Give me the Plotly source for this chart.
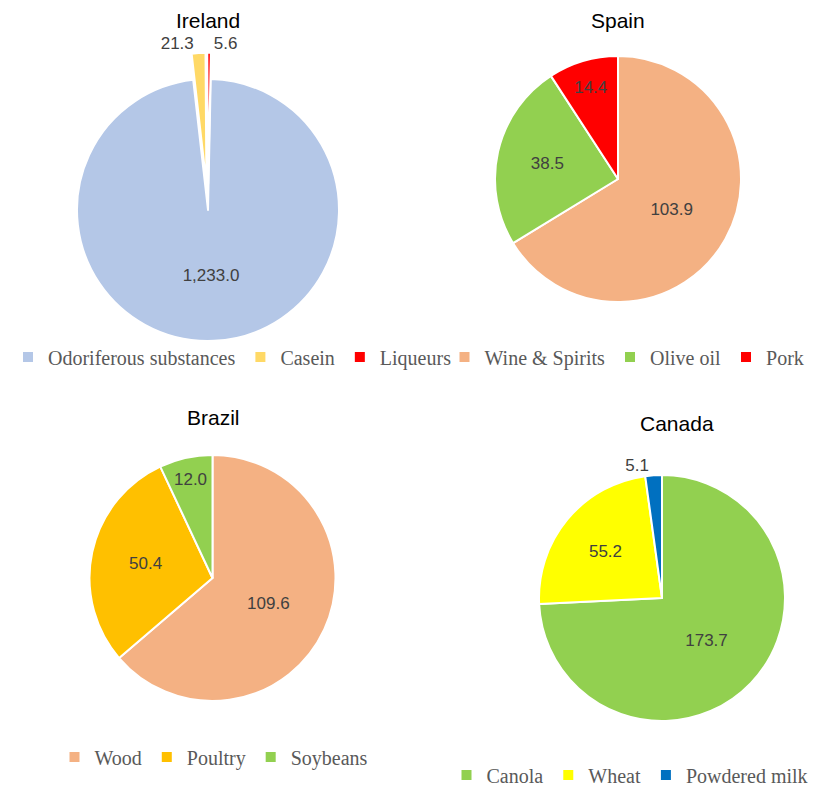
import plotly.graph_objects as go

W, H = 823, 788
OFF = 8  # page body margin: figure is drawn 8px right/down of the window corner

# ---- data ----
ireland_labels = ["Odoriferous substances", "Casein", "Liqueurs"]
ireland_values = [1233.0, 21.3, 5.6]
ireland_colors = ["#B4C7E7", "#FFD966", "#FF0000"]

spain_labels = ["Wine & Spirits", "Olive oil", "Pork"]
spain_values = [103.9, 38.5, 14.4]
spain_colors = ["#F4B183", "#92D050", "#FF0000"]

brazil_labels = ["Wood", "Poultry", "Soybeans"]
brazil_values = [109.6, 50.4, 12.0]
brazil_colors = ["#F4B183", "#FFC000", "#92D050"]

canada_labels = ["Canola", "Wheat", "Powdered milk"]
canada_values = [173.7, 55.2, 5.1]
canada_colors = ["#92D050", "#FFFF00", "#0070C0"]

titles = ["Ireland", "Spain", "Brazil", "Canada"]


def px_dom(cx, cy, half):
    cx, cy = cx - OFF, cy - OFF
    return dict(x=[(cx - half) / W, (cx + half) / W],
                y=[(H - cy - half) / H, (H - cy + half) / H])


def fx(x):
    return (x - OFF) / W


def fy(y):
    return (H - (y - OFF)) / H


label_font = dict(family="Liberation Sans, Arial", size=17, color="#404040")

fig = go.Figure()

common = dict(sort=False, direction="clockwise",
              texttemplate="%{value:,.1f}", textinfo="value",
              insidetextorientation="horizontal",
              textfont=label_font, insidetextfont=label_font,
              outsidetextfont=label_font, hoverinfo="label+value")

PULL = 0.2
pull_ir = [0, PULL, PULL]
fig.add_trace(go.Pie(labels=ireland_labels, values=ireland_values, rotation=1.2,
                     marker=dict(colors=ireland_colors, line=dict(color="white", width=2)),
                     pull=pull_ir, textposition=["inside", "outside", "outside"],
                     domain=px_dom(208, 210, 131 * (1 + PULL)), legend="legend", **common))
fig.add_trace(go.Pie(labels=spain_labels, values=spain_values, rotation=0,
                     marker=dict(colors=spain_colors, line=dict(color="white", width=2)),
                     textposition="inside",
                     domain=px_dom(618, 179, 123), legend="legend2", **common))
fig.add_trace(go.Pie(labels=brazil_labels, values=brazil_values, rotation=0,
                     marker=dict(colors=brazil_colors, line=dict(color="white", width=2)),
                     textposition="inside",
                     domain=px_dom(212.5, 578, 123), legend="legend3", **common))
fig.add_trace(go.Pie(labels=canada_labels, values=canada_values, rotation=0,
                     marker=dict(colors=canada_colors, line=dict(color="white", width=2)),
                     textposition=["inside", "inside", "outside"],
                     domain=px_dom(662, 598, 123), legend="legend4", **common))

title_pos = [(208, 20), (618, 20), (213, 417), (677, 423)]
for t, (x, y) in zip(titles, title_pos):
    fig.add_annotation(text=t, x=fx(x), y=fy(y), xref="paper", yref="paper",
                       showarrow=False, xanchor="center", yanchor="middle",
                       font=dict(family="Liberation Sans, Arial", size=21, color="#000000"))

leg_font = dict(family="Liberation Serif, Times New Roman", size=20, color="#595959")
SYM = 17.5  # distance from legend left edge to first symbol centre


def leg(sym_x, y):
    return dict(orientation="h", x=max(0.0, fx(sym_x - SYM)), y=fy(y),
                xanchor="left", yanchor="middle",
                font=leg_font, bgcolor="rgba(0,0,0,0)", itemclick=False)


fig.update_layout(
    width=W, height=H, margin=dict(l=0, r=0, t=0, b=0, autoexpand=False),
    paper_bgcolor="white", plot_bgcolor="white",
    legend=leg(12, 357),
    legend2=leg(462, 357),
    legend3=leg(72, 757),
    legend4=leg(464, 775),
)

fig.write_html("out.html")
